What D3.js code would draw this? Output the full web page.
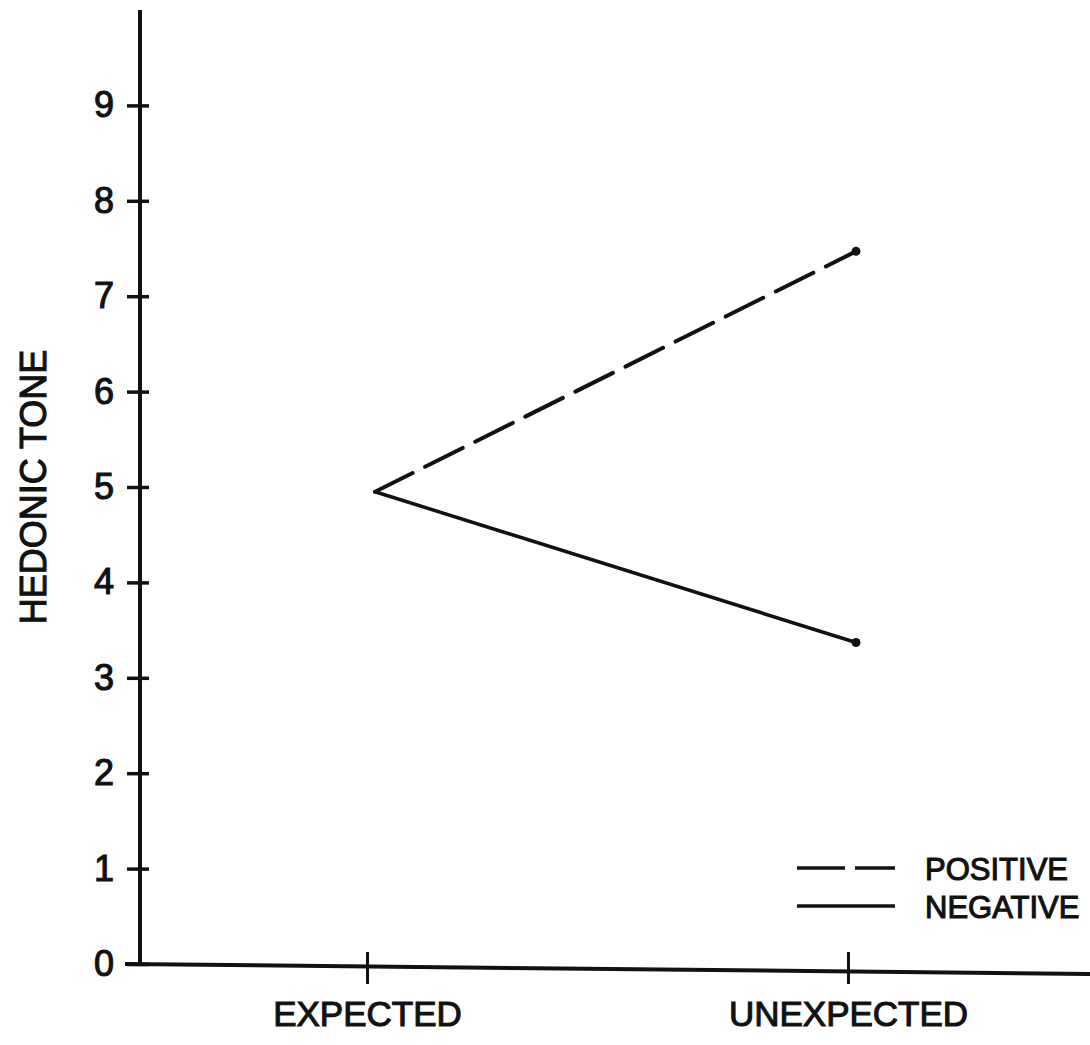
<!DOCTYPE html>
<html lang="en">
<head>
    <meta charset="UTF-8">
    <title>Hedonic Tone</title>
    <script src="https://d3js.org/d3.v7.min.js"></script>
    <style>
        * { margin: 0; padding: 0; box-sizing: border-box; }
        html, body { width: 1090px; height: 1045px; overflow: hidden; background: #fff; }
        svg { display: block; }
        text { font-family: "Liberation Sans", Arial, sans-serif; fill: #111; stroke: #111; stroke-width: 1.1px; }
    </style>
</head>
<body>
<svg id="chart" width="1090" height="1045"></svg>
<script>
    const categories = ["EXPECTED", "UNEXPECTED"]
    const positiveValues = [4.95, 7.47]
    const negativeValues = [4.95, 3.37]
    const yTicks = [0, 1, 2, 3, 4, 5, 6, 7, 8, 9]
    const seriesNames = ["POSITIVE", "NEGATIVE"]

    const svg = d3.select("#chart")
    const ink = "#111"

    const y = d3.scaleLinear().domain([0, 10]).range([964, 10])
    const x = d3.scalePoint().domain(categories).range([367, 848])
    const axisX = 140

    // y axis
    const yAxis = svg.append("g")
        .attr("transform", `translate(${axisX},0)`)
        .call(d3.axisLeft(y).tickValues(yTicks).tickSize(0).tickPadding(20).tickFormat(d3.format("d")))
    yAxis.select(".domain").remove()
    yAxis.append("line")
        .attr("x1", 0).attr("x2", 0)
        .attr("y1", y(10)).attr("y2", y(0) + 2)
        .attr("stroke", ink).attr("stroke-width", 4)
    yAxis.selectAll(".tick").append("line")
        .attr("x1", -13).attr("x2", 9)
        .attr("stroke", ink).attr("stroke-width", 3.5)
    yAxis.selectAll(".tick text")
        .attr("font-size", 36)
        .attr("fill", ink)
        .attr("x", -26)
        .style("font-family", "'Liberation Sans', Arial, sans-serif")

    // x axis
    const xAxis = svg.append("g")
        .attr("transform", `translate(0,${y(0)})`)
        .call(d3.axisBottom(x).tickSize(0).tickPadding(30))
    xAxis.select(".domain").remove()
    xAxis.append("line")
        .attr("x1", axisX - 15).attr("x2", 1090)
        .attr("y1", 0).attr("y2", 10)
        .attr("stroke", ink).attr("stroke-width", 4)
    xAxis.selectAll(".tick").append("line")
        .attr("y1", -12).attr("y2", 20)
        .attr("stroke", ink).attr("stroke-width", 3)
    xAxis.selectAll(".tick text")
        .attr("font-size", 35)
        .attr("fill", ink)
        .attr("dy", "0.9em")
        .style("font-family", "'Liberation Sans', Arial, sans-serif")

    // y label
    svg.append("text")
        .attr("transform", `translate(46,487) rotate(-90)`)
        .attr("text-anchor", "middle")
        .attr("font-size", 36)
        .text("HEDONIC TONE")

    // series
    const shift = 8
    const line = d3.line()
        .x((d, i) => x(categories[i]) + shift)
        .y(d => y(d))

    svg.append("path")
        .datum(positiveValues)
        .attr("d", line)
        .attr("fill", "none")
        .attr("stroke", ink)
        .attr("stroke-width", 4)
        .attr("stroke-dasharray", "42 14")
        .attr("stroke-linecap", "round")

    svg.append("path")
        .datum(negativeValues)
        .attr("d", line)
        .attr("fill", "none")
        .attr("stroke", ink)
        .attr("stroke-width", 3.5)
        .attr("stroke-linecap", "round")

    svg.selectAll(".pt")
        .data([positiveValues[1], negativeValues[1]])
        .join("circle")
        .attr("cx", x(categories[1]) + shift)
        .attr("cy", d => y(d))
        .attr("r", 4.5)
        .attr("fill", ink)

    // legend
    const legend = svg.append("g").attr("transform", "translate(797,868)")
    legend.selectAll("line")
        .data(seriesNames)
        .join("line")
        .attr("x1", 0).attr("x2", 98)
        .attr("y1", (_, i) => i * 38).attr("y2", (_, i) => i * 38)
        .attr("stroke", ink)
        .attr("stroke-width", 3.5)
        .attr("stroke-dasharray", (_, i) => i === 0 ? "48 10" : null)
    legend.selectAll("text")
        .data(seriesNames)
        .join("text")
        .attr("x", 128)
        .attr("y", (_, i) => i * 38 + 12)
        .attr("font-size", 31)
        .text(d => d)
</script>
</body>
</html>
